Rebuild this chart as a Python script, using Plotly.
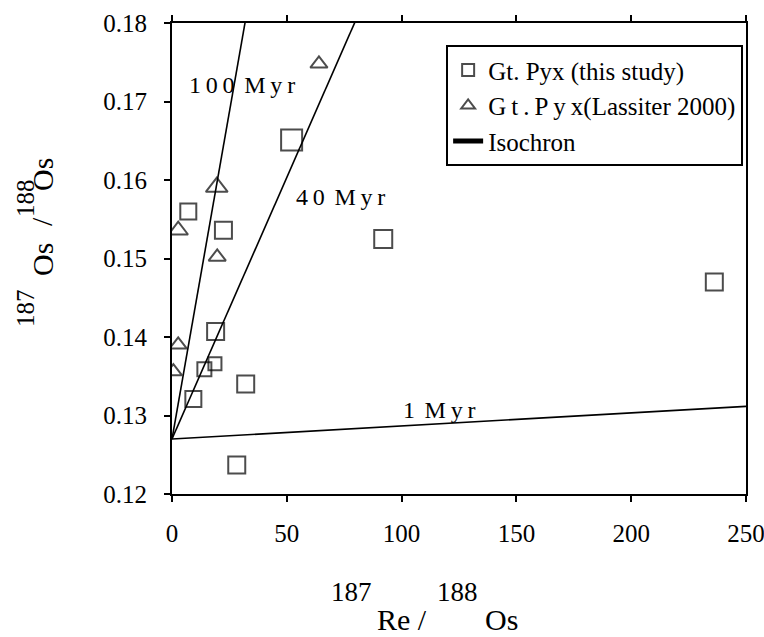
import numpy as np
import plotly.graph_objects as go

# Garnet pyroxenite Re-Os data, this study
study_re_os = [52.1, 7.1, 22.4, 92.0, 236.2, 19.0, 18.7, 14.1, 32.1, 9.3, 28.2]
study_os_os = [0.1651, 0.1560, 0.1536, 0.1525, 0.1470, 0.1407, 0.1366, 0.1359, 0.1340, 0.1321, 0.1237]

# Garnet pyroxenite Re-Os data, Lassiter (2000)
lassiter_re_os = [64.0, 19.5, 2.7, 19.7, 2.7, 0.6]
lassiter_os_os = [0.1748, 0.1591, 0.1536, 0.1502, 0.1390, 0.1356]

# Reference isochrons
isochron_ages_myr = [100, 40, 1]
isochron_labels = ["1\u20090\u20090\u2009\u2009M\u2009y\u2009r", "4\u20090\u2009\u2009M\u2009y\u2009r", "1\u2009\u2009M\u2009y\u2009r"]
initial_ratio = 0.127
decay_const = 1.666e-11  # 187Re decay constant, 1/yr

x_ticks = [0, 50, 100, 150, 200, 250]
y_ticks = [0.12, 0.13, 0.14, 0.15, 0.16, 0.17, 0.18]
y_tick_text = ["0.12", "0.13", "0.14", "0.15", "0.16", "0.17", "0.18"]

# per-point marker sizes
study_sizes = [21, 16, 17, 18, 17, 17, 13, 14, 17, 16, 17]
lassiter_sizes = [15, 19, 17, 15, 15, 15]

FONT = "Liberation Serif, Times New Roman, serif"
W, H = 764, 637
M_L, M_R, M_T, M_B = 172, 18, 23, 143
PW, PH = W - M_L - M_R, H - M_T - M_B
x_end = 250


def px_to_paper(px, py):
    return (px - M_L) / PW, (H - M_B - py) / PH


fig = go.Figure()

fig.add_trace(go.Scatter(
    x=study_re_os, y=study_os_os, mode="markers",
    name="Gt. Pyx (this study)",
    marker=dict(symbol="square-open", size=study_sizes, color="black",
                line=dict(width=2, color="black")),
))
fig.add_trace(go.Scatter(
    x=lassiter_re_os, y=lassiter_os_os, mode="markers",
    name="G\u2009t\u2009.\u2009P\u2009y\u2009x(Lassiter 2000)",
    marker=dict(symbol="triangle-up-open", size=lassiter_sizes, color="black",
                line=dict(width=2, color="black")),
))

for i, age in enumerate(isochron_ages_myr):
    slope = np.expm1(decay_const * age * 1e6)
    xs = [0, x_end]
    ys = [initial_ratio, initial_ratio + slope * x_end]
    fig.add_trace(go.Scatter(
        x=xs, y=ys, mode="lines", name="Isochron",
        line=dict(color="black", width=1.6),
        legendgroup="iso", showlegend=(i == 0),
    ))

label_pos = [(30.4, 0.1721), (73.2, 0.1578), (116.3, 0.1307)]
for (lx, ly), txt in zip(label_pos, isochron_labels):
    fig.add_annotation(x=lx, y=ly, text=txt, showarrow=False,
                       font=dict(family=FONT, size=24, color="black"))

# axis titles, isotope numbers raised as separate pieces
x_title_parts = [("187", 351, 592, 27), ("Re /", 402, 619, 30), ("188", 457, 592, 27), ("Os", 501, 619, 30)]
for txt, px, py, fs in x_title_parts:
    ax, ay = px_to_paper(px, py)
    fig.add_annotation(xref="paper", yref="paper", x=ax, y=ay, text=txt,
                       xanchor="center", yanchor="middle", showarrow=False,
                       font=dict(family=FONT, size=fs, color="black"))

y_title_parts = [("187", 25, 308, 25), ("Os", 42, 260, 30), ("/", 41, 222, 30),
                 ("188", 25, 198, 25), ("Os", 42, 175, 30)]
for txt, px, py, fs in y_title_parts:
    ax, ay = px_to_paper(px, py)
    fig.add_annotation(xref="paper", yref="paper", x=ax, y=ay, text=txt, textangle=-90,
                       xanchor="center", yanchor="middle", showarrow=False,
                       font=dict(family=FONT, size=fs, color="black"))

axis_common = dict(
    showgrid=False, zeroline=False, showline=True, linecolor="black", linewidth=2,
    ticks="outside", ticklen=6, tickwidth=2, tickcolor="black",
    tickfont=dict(family=FONT, size=25, color="black"),
    ticklabeloverflow="allow", automargin=False,
)
fig.update_xaxes(range=[0, 250], tickvals=x_ticks,
                 mirror="ticks", ticklabelstandoff=10, **axis_common)
fig.update_yaxes(range=[0.12, 0.18], tickvals=y_ticks, ticktext=y_tick_text,
                 mirror=True, ticklabelstandoff=12, **axis_common)

fig.update_layout(
    width=W, height=H,
    margin=dict(l=M_L, r=M_R, t=M_T, b=M_B, autoexpand=False),
    paper_bgcolor="white", plot_bgcolor="white",
    font=dict(family=FONT, color="black"),
    legend=dict(x=0.995, y=0.953, xanchor="right", yanchor="top",
                bgcolor="white", bordercolor="black", borderwidth=2,
                font=dict(family=FONT, size=25, color="black"),
                itemsizing="constant", tracegroupgap=0),
    showlegend=True,
)

fig.write_html("out.html")
